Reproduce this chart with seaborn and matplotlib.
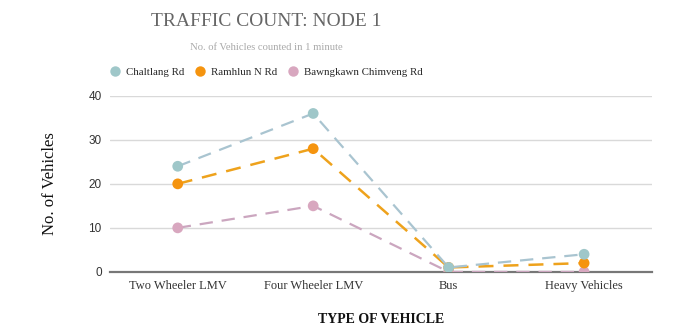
import matplotlib
matplotlib.use("Agg")
import matplotlib.pyplot as plt
import seaborn as sns
import pandas as pd

categories = ["Two Wheeler LMV", "Four Wheeler LMV", "Bus", "Heavy Vehicles"]
chaltlang = [24, 36, 1, 4]
ramhlun = [20, 28, 1, 2]
bawngkawn = [10, 15, 0, 0]
series_names = ["Chaltlang Rd", "Ramhlun N Rd", "Bawngkawn Chimveng Rd"]
y_ticks = [0, 10, 20, 30, 40]

marker_colors = ["#9fc7c9", "#f5940f", "#d8a7bf"]
line_colors = ["#a9c4d0", "#eea21c", "#cba6bf"]

rows = []
for name, vals in zip(series_names, [chaltlang, ramhlun, bawngkawn]):
    for i, (cat, v) in enumerate(zip(categories, vals)):
        rows.append({"pos": i, "category": cat, "count": v, "road": name})
df = pd.DataFrame(rows)

sns.set_theme(style="white")
serif = ["Liberation Serif", "DejaVu Serif"]
sans = ["Liberation Sans", "DejaVu Sans"]

fig = plt.figure(figsize=(6.79, 3.34), dpi=100)
ax = fig.add_axes([0.162, 0.186, 0.798, 0.527])

# draw later series first so Chaltlang sits on top, as in the legend order
for name, mc, lc, lw in zip(series_names[::-1], marker_colors[::-1], line_colors[::-1], [1.6, 1.8, 1.6]):
    sub = df[df["road"] == name]
    sns.lineplot(data=sub, x="pos", y="count", ax=ax, color=lc, linewidth=lw,
                 linestyle=(0, (6, 4)), legend=False, zorder=2)
    ax.scatter(sub["pos"], sub["count"], s=60, color=mc, zorder=3, edgecolor="none")

ax.set_xlim(-0.5, 3.5)
ax.set_ylim(0, 40)
ax.set_yticks(y_ticks)
ax.set_yticklabels([str(t) for t in y_ticks], family=sans, fontsize=8.5, color="#333333")
ax.set_xticks(range(len(categories)))
ax.set_xticklabels(categories, family=serif, fontsize=9, color="#333333")
ax.tick_params(axis="both", length=0, pad=6)
ax.yaxis.grid(True, color="#d9d9d9", linewidth=1)
ax.set_axisbelow(True)
for s in ["top", "right", "left"]:
    ax.spines[s].set_visible(False)
ax.spines["bottom"].set_color("#777777")
ax.spines["bottom"].set_linewidth(1.6)
ax.spines["bottom"].set_zorder(1)

ax.set_xlabel("TYPE OF VEHICLE", family=serif, fontsize=10, fontweight="bold",
              color="#111111", labelpad=15)
ax.set_ylabel("No. of Vehicles", family=serif, fontsize=12, color="#111111", labelpad=22)

fig.text(0.392, 0.937, "TRAFFIC COUNT: NODE 1", family=serif, fontsize=14,
         color="#666666", ha="center", va="center")
fig.text(0.392, 0.857, "No. of Vehicles counted in 1 minute", family=serif, fontsize=7.7,
         color="#aaaaaa", ha="center", va="center")

handles = [plt.Line2D([], [], marker="o", linestyle="none", markersize=7.5,
                      markerfacecolor=c, markeredgecolor="none") for c in marker_colors]
fig.legend(handles, series_names, loc="center", bbox_to_anchor=(0.392, 0.783), ncol=3,
           frameon=False, prop={"family": serif, "size": 7.8}, handletextpad=0.5,
           columnspacing=1.0, handlelength=1.0)

fig.savefig("out.png", dpi=100, facecolor="white")
